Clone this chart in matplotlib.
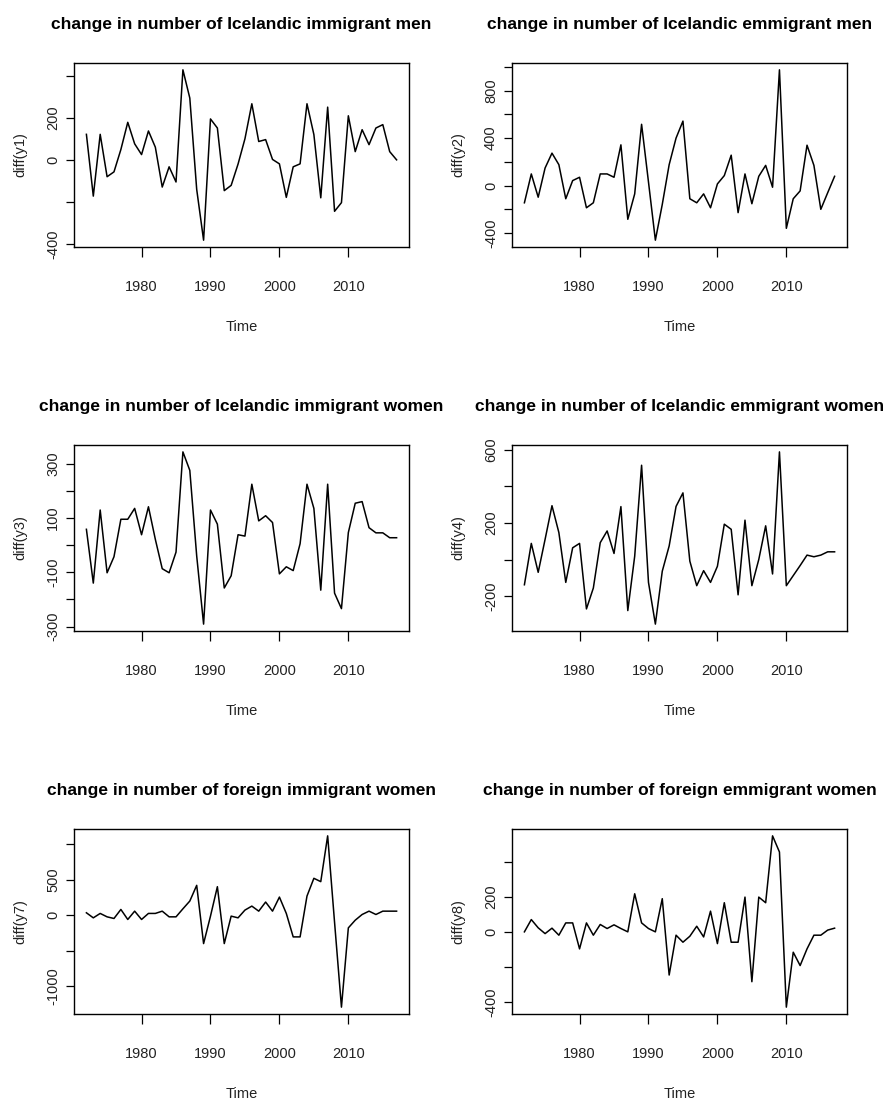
import numpy as np
import matplotlib
matplotlib.use('Agg')
import matplotlib.pyplot as plt
from matplotlib import font_manager

years = np.arange(1972, 2018)

y1 = [121, -172, 121, -80, -57, 49, 178, 76, 25, 137,
      60, -129, -33, -105, 427, 293, -140, -381, 194, 151,
      -146, -121, -20, 100, 266, 87, 96, 2, -19, -178,
      -33, -19, 266, 120, -180, 250, -244, -203, 209, 39,
      143, 72, 151, 167, 39, 0]
y2 = [-145, 98, -98, 148, 273, 176, -111, 42, 70, -187,
      -145, 98, 98, 70, 343, -284, -70, 516, 30, -460,
      -159, 176, 400, 543, -111, -145, -70, -187, 14, 84,
      256, -228, 98, -153, 78, 170, -14, 975, -360, -111,
      -45, 340, 170, -200, -60, 78]
y3 = [58, -140, 129, -102, -43, 95, 95, 135, 38, 141,
      21, -87, -102, -26, 343, 275, -40, -291, 129, 77,
      -158, -113, 38, 33, 224, 89, 108, 83, -106, -80,
      -94, 5, 224, 135, -166, 224, -177, -234, 46, 154,
      160, 64, 45, 45, 27, 27]
y4 = [-138, 88, -70, 110, 294, 147, -125, 64, 88, -270,
      -156, 92, 156, 33, 289, -279, 18, 515, -125, -353,
      -64, 74, 290, 364, -9, -143, -61, -125, -37, 193,
      165, -193, 215, -143, 0, 184, -79, 588, -143, -88,
      -33, 24, 15, 24, 42, 42]
y7 = [33, -38, 24, -24, -47, 80, -61, 56, -61, 24,
      24, 56, -24, -24, 89, 198, 419, -400, -14, 400,
      -400, -14, -38, 71, 127, 56, 184, 56, 254, 24,
      -306, -306, 268, 518, 471, 1115, -100, -1294, -179, -71,
      9, 56, 9, 56, 56, 56]
y8 = [0, 70, 23, -10, 21, -19, 51, 51, -97, 51,
      -19, 42, 19, 40, 19, 0, 217, 51, 19, 0,
      189, -246, -19, -59, -25, 32, -29, 118, -67, 166,
      -59, -59, 198, -284, 198, 166, 547, 455, -429, -116,
      -192, -97, -19, -19, 10, 21]

series = [y1, y2, y3, y4, y7, y8]
titles = ['change in number of Icelandic immigrant men',
          'change in number of Icelandic emmigrant men',
          'change in number of Icelandic immigrant women',
          'change in number of Icelandic emmigrant women',
          'change in number of foreign immigrant women',
          'change in number of foreign emmigrant women']
ylabels = ['diff(y1)', 'diff(y2)', 'diff(y3)', 'diff(y4)', 'diff(y7)', 'diff(y8)']
xticks = [1980, 1990, 2000, 2010]
yticks = [[-400, -200, 0, 200, 400],
          [-400, -200, 0, 200, 400, 600, 800, 1000],
          [-300, -200, -100, 0, 100, 200, 300],
          [-200, 0, 200, 400, 600],
          [-1000, -500, 0, 500, 1000],
          [-400, -200, 0, 200, 400]]
ytick_labels = [['-400', '', '0', '200', ''],
                ['-400', '', '0', '', '400', '', '800', ''],
                ['-300', '', '-100', '', '100', '', '300'],
                ['-200', '', '200', '', '600'],
                ['-1000', '', '0', '500', ''],
                ['-400', '', '0', '200', '']]

names = {f.name for f in font_manager.fontManager.ttflist}
fam = 'Liberation Sans Narrow' if 'Liberation Sans Narrow' in names else 'Liberation Sans'
narrow = fam == 'Liberation Sans Narrow'
plt.rcParams['font.family'] = fam

W, H = 886, 1101
fig = plt.figure(figsize=(W / 100, H / 100), dpi=100)

# pixel boxes (left, right, top, bottom) of each plot region
lefts = [74, 512]
rights = [409, 847]
tops = [63, 445, 829]
bottoms = [247, 631, 1014]

tick_fs = 11.5 if narrow else 10.5
title_fs = 14 if narrow else 12.5

for i, y in enumerate(series):
    r, c = divmod(i, 2)
    l, rr, t, b = lefts[c], rights[c], tops[r], bottoms[r]
    ax = fig.add_axes([l / W, 1 - b / H, (rr - l) / W, (b - t) / H])
    ax.plot(years, y, color='black', lw=1.1)
    ax.margins(x=0.04, y=0.04)
    ax.set_xticks(xticks)
    ax.set_yticks(yticks[i])
    ax.set_yticklabels(ytick_labels[i])
    ax.tick_params(axis='x', length=7, width=0.9, pad=17, labelsize=tick_fs, labelcolor='#222222')
    ax.tick_params(axis='y', length=6, width=0.9, pad=4, labelsize=tick_fs, labelcolor='#222222')
    plt.setp(ax.get_yticklabels(), rotation=90, va='center', ha='right')
    for s in ax.spines.values():
        s.set_linewidth(1.0)
    cx = (l + rr) / 2
    fig.text(cx / W, 1 - (t - 38) / H, titles[i], ha='center', va='center',
             fontsize=title_fs, fontweight='bold')
    fig.text(cx / W, 1 - (b + 80) / H, 'Time', ha='center', va='center',
             fontsize=tick_fs, color='#222222')
    fig.text((l - 54) / W, 1 - (t + b) / 2 / H, ylabels[i], ha='center', va='center',
             rotation=90, fontsize=tick_fs, color='#222222')

fig.savefig('out.png', dpi=100)
